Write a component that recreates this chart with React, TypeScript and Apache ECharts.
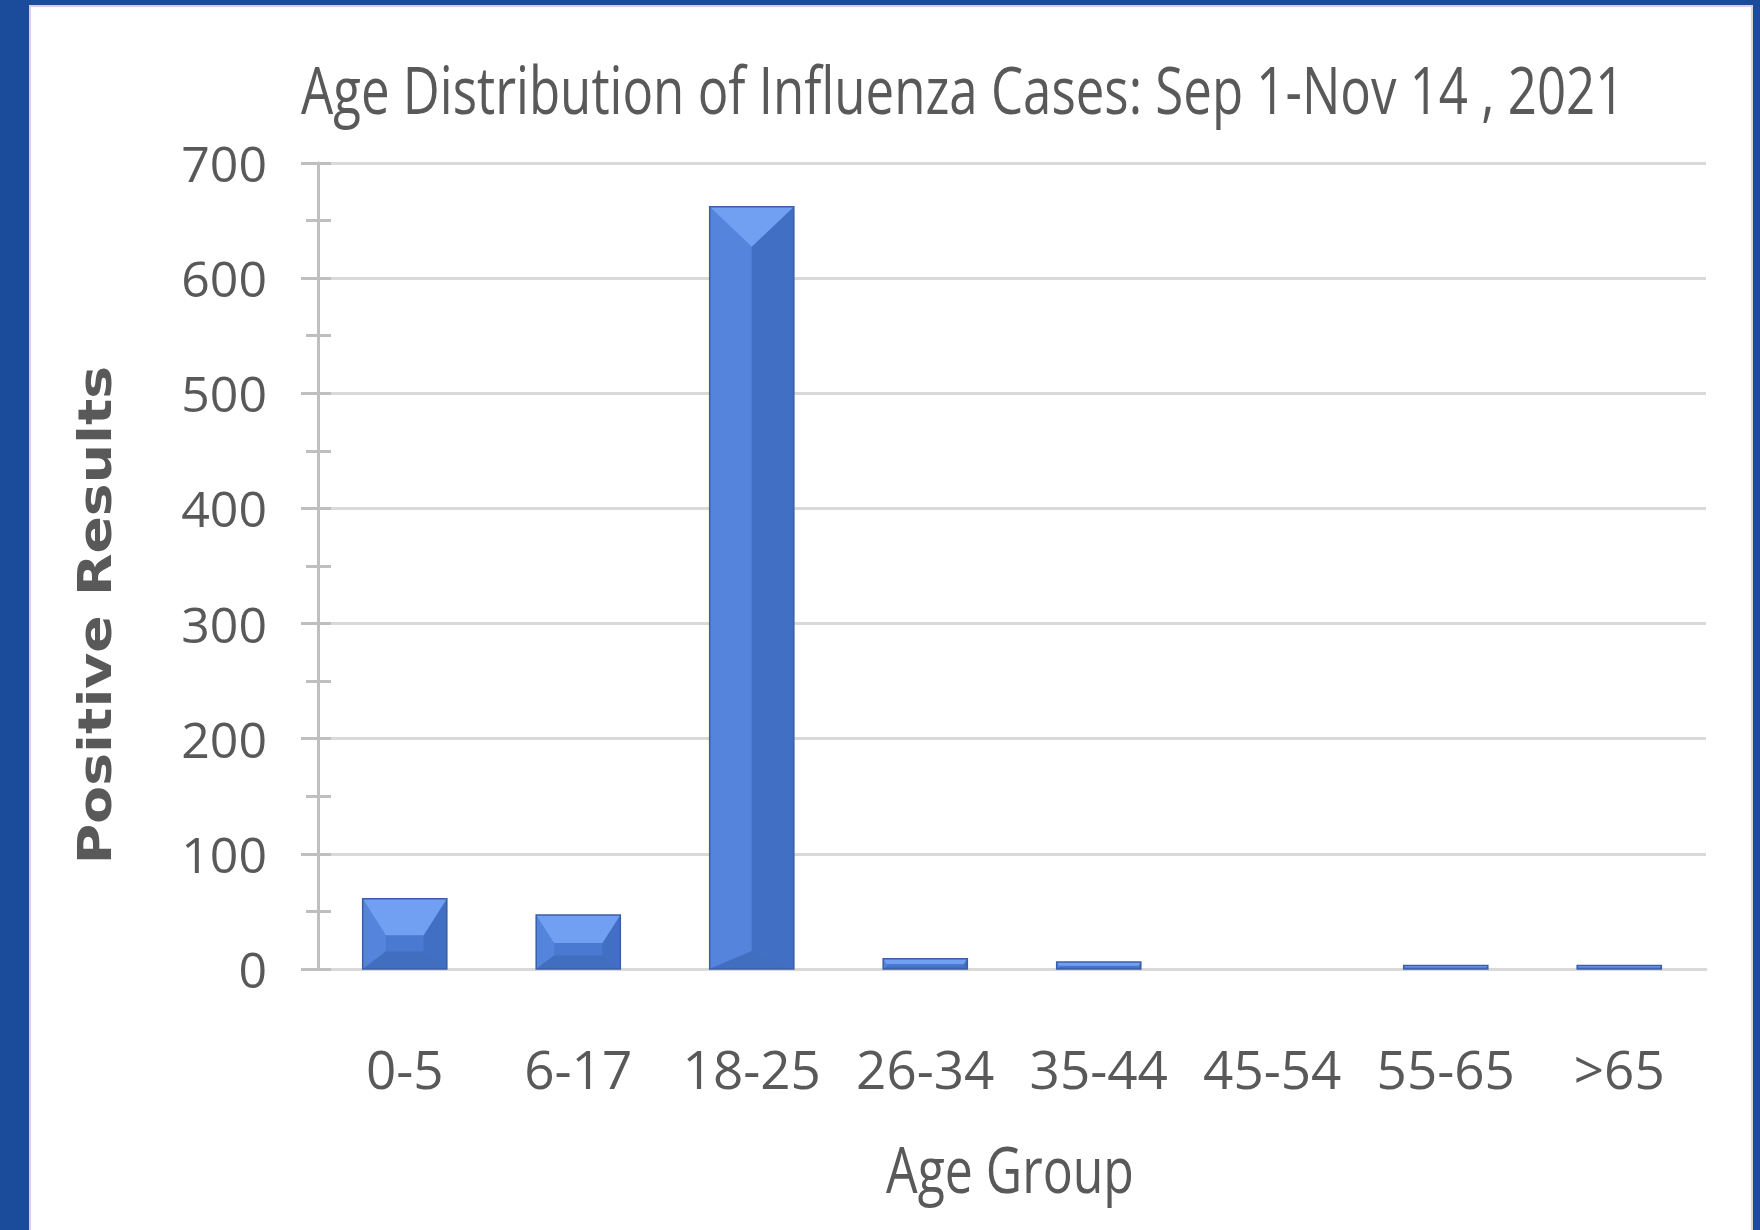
import { useEffect, useRef } from "react";
import * as echarts from "echarts";

const TITLE = "Age Distribution of Influenza Cases: Sep 1-Nov 14 , 2021";
const categories = ["0-5", "6-17", "18-25", "26-34", "35-44", "45-54", "55-65", ">65"];
const positiveResults = [61, 47, 662, 9, 6, 0, 3, 3];
const yMin = 0;
const yMax = 700;
const yInterval = 100;
const xAxisName = "Age Group";
const yAxisName = "Positive Results";

const FONT = "'Open Sans', 'Liberation Sans', sans-serif";
const TEXT = "#595959";

function renderBevelBar(params: any, api: any) {
  const v = api.value(1);
  const base = api.coord([api.value(0), 0]);
  const top = api.coord([api.value(0), v]);
  const bw = api.size([1, 0])[0] * 0.485;
  const x0 = base[0] - bw / 2;
  const x1 = base[0] + bw / 2;
  const yb = base[1];
  const yt = top[1];
  const h = yb - yt;
  if (h <= 0.5) return null;
  const dy = Math.min(h * 0.52, 40);
  const dx = Math.min(bw / 2, h * 0.33);
  const dyb = Math.min(h * 0.25, 18);
  const xl = x0 + dx;
  const xr = x1 - dx;
  const yTopIn = yt + dy;
  const yBotIn = Math.max(yb - dyb, yTopIn);
  const poly = (pts: number[][], fill: string) => ({
    type: "polygon",
    shape: { points: pts },
    style: { fill },
  });
  return {
    type: "group",
    children: [
      {
        type: "rect",
        shape: { x: x0, y: yt, width: bw, height: h },
        style: { fill: "#4A79D1" },
      },
      poly([[x0, yt], [xl, yTopIn], [xl, yBotIn], [x0, yb]], "#5484DC"),
      poly([[x1, yt], [xr, yTopIn], [xr, yBotIn], [x1, yb]], "#416FC3"),
      poly([[x0, yb], [xl, yBotIn], [xr, yBotIn], [x1, yb]], "#426EC0"),
      poly([[x0, yt], [x1, yt], [xr, yTopIn], [xl, yTopIn]], "#71A0F2"),
      {
        type: "rect",
        shape: { x: x0, y: yt, width: bw, height: h },
        style: { fill: "none", stroke: "#3A5FA6", lineWidth: 1.5 },
      },
    ],
  };
}

export default function App() {
  const ref = useRef<HTMLDivElement>(null);
  useEffect(() => {
    if (!ref.current) return;
    const chart = echarts.init(ref.current, undefined, { renderer: "svg" });
    const tickLine = { color: "#bfbfbf", width: 3 };
    chart.setOption({
      animation: false,
      backgroundColor: "#1b4c9b",
      graphic: [
        {
          type: "rect",
          z: -10,
          silent: true,
          shape: { x: 30, y: 6, width: 1722, height: 1240 },
          style: { fill: "#ffffff", stroke: "#d4d4d4", lineWidth: 2 },
        },
        {
          type: "text",
          silent: true,
          x: 301,
          y: 88,
          scaleY: 1.29,
          style: {
            text: TITLE,
            fontFamily: FONT,
            fontSize: 51,
            fill: TEXT,
            textAlign: "left",
            textVerticalAlign: "middle",
          },
        },
        {
          type: "text",
          silent: true,
          x: 1010,
          y: 1169,
          scaleY: 1.27,
          style: {
            text: xAxisName,
            fontFamily: FONT,
            fontSize: 50,
            fill: TEXT,
            textAlign: "center",
            textVerticalAlign: "middle",
          },
        },
        {
          type: "text",
          silent: true,
          x: 95,
          y: 615,
          rotation: Math.PI / 2,
          scaleX: 1.2,
          style: {
            text: yAxisName,
            fontFamily: "'DejaVu Sans', sans-serif",
            fontWeight: "bold",
            fontSize: 46,
            fill: TEXT,
            textAlign: "center",
            textVerticalAlign: "middle",
          },
        },
      ],
      grid: { left: 318, right: 54, top: 163, bottom: 261, containLabel: false },
      xAxis: {
        type: "category",
        data: categories,
        axisLine: { show: true, lineStyle: { color: "#d9d9d9", width: 3 } },
        axisTick: { show: false },
        axisLabel: { interval: 0, margin: 73, fontFamily: FONT, fontSize: 53, color: TEXT },
      },
      yAxis: [
        {
          type: "value",
          min: yMin,
          max: yMax,
          interval: yInterval,
          axisLine: { show: true, lineStyle: tickLine },
          axisTick: { show: true, length: 17, lineStyle: tickLine },
          minorTick: { show: true, splitNumber: 2, length: 12, lineStyle: tickLine },
          splitLine: { show: true, lineStyle: { color: "#d9d9d9", width: 3 } },
          axisLabel: { margin: 51, fontFamily: FONT, fontSize: 50, color: TEXT },
        },
        {
          type: "value",
          min: yMin,
          max: yMax,
          interval: yInterval,
          position: "left",
          axisLine: { show: false },
          axisTick: { show: true, inside: true, length: 13, lineStyle: tickLine },
          minorTick: { show: true, splitNumber: 2, length: 13, lineStyle: tickLine },
          splitLine: { show: false },
          axisLabel: { show: false },
        },
      ],
      series: [
        {
          type: "custom",
          yAxisIndex: 0,
          encode: { x: 0, y: 1 },
          data: categories.map((c, i) => [i, positiveResults[i]]),
          renderItem: renderBevelBar,
        },
      ],
    });
    return () => chart.dispose();
  }, []);
  return (
    <div style={{ position: "fixed", left: 0, top: 0, width: 1760, height: 1230 }}>
      <div ref={ref} style={{ width: 1760, height: 1230 }} />
    </div>
  );
}
